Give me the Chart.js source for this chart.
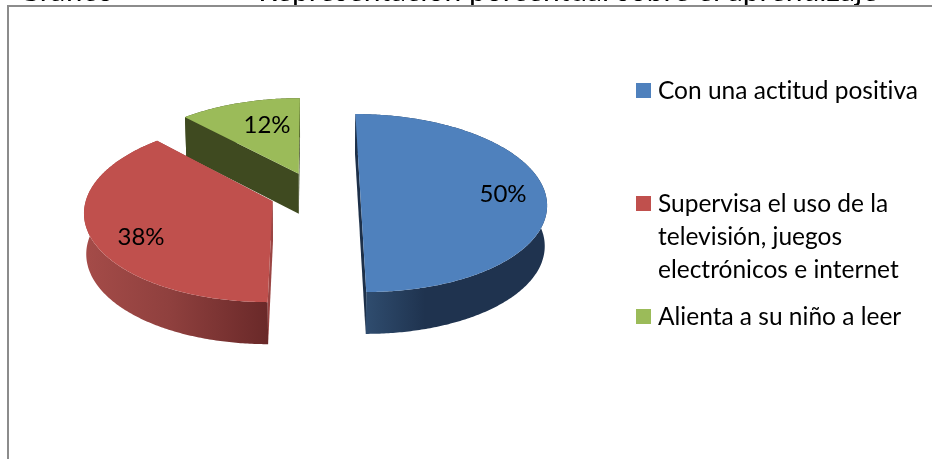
<!DOCTYPE html>
<html lang="es">
<head>
<meta charset="utf-8">
<title>Gráfico</title>
<script src="https://cdn.jsdelivr.net/npm/chart.js@4"></script>
<style>
  html, body { margin: 0; padding: 0; background: #fff; overflow: hidden; }
  #wrap { position: relative; width: 932px; height: 459px; overflow: hidden; }
  #frame { position: absolute; left: 7px; top: 5px; right: -4px; bottom: -4px;
           border: 2px solid #8c8c8c; box-sizing: border-box; pointer-events: none; }
  canvas { position: absolute; left: 0; top: 0; }
</style>
</head>
<body>
<div id="wrap">
  <canvas id="c" width="932" height="459"></canvas>
  <div id="frame"></div>
</div>
<script>
const categories = ['Con una actitud positiva',
                    'Supervisa el uso de la televisión, juegos electrónicos e internet',
                    'Alienta a su niño a leer'];
const legendLines = [['Con una actitud positiva'],
                     ['Supervisa el uso de la', 'televisión, juegos', 'electrónicos e internet'],
                     ['Alienta a su niño a leer']];
const values = [50, 38, 12];
const percentLabels = ['50%', '38%', '12%'];
const colors = ['#4f81bd', '#c0504d', '#9bbb59'];
const explode = [50, 50, 50];
const clippedHeading = ['Gráfico', 'Representación porcentual sobre el aprendizaje'];

const FONT = 'Lato, Carlito, sans-serif';

// Perspective of the tilted pie plane (radii -> pixels)
const cam = { vx: 311.5, vy: -606, d: 9.09, D: 7265, E: 1682, uc: 0.019, k: 0.01 };
function project(u, v) {
  const w = cam.d - v;
  return { x: cam.vx + cam.E * u / w, y: cam.vy + cam.D / w };
}
function lower(p) {
  return { x: cam.vx + (p.x - cam.vx) * (1 - cam.k), y: p.y + 40.5 + (p.y - 200) * 0.015 };
}
function wallFill(ctx, i) {
  const stops = [
    [[367, '#2f4c6e'], [425, '#1f334f'], [548, '#1f334f']],
    [[88, '#a44b48'], [170, '#8f403e'], [267, '#6a2929']],
    [[187, '#3f4a20'], [300, '#3f4a20']]
  ][i];
  const a = stops[0][0], b = stops[stops.length - 1][0];
  const g = ctx.createLinearGradient(a, 0, b, 0);
  stops.forEach(s => g.addColorStop((s[0] - a) / (b - a), s[1]));
  return g;
}
const faceColors = ['#1d3049', '#9a4543', '#3f4a20'];

function polygon(ctx, pts, fill) {
  ctx.beginPath();
  pts.forEach((p, i) => i ? ctx.lineTo(p.x, p.y) : ctx.moveTo(p.x, p.y));
  ctx.closePath();
  ctx.fillStyle = fill;
  ctx.fill();
}

const pie3d = {
  id: 'pie3d',
  beforeDatasetDraw(chart, args) {
    const ctx = chart.ctx;
    const arcs = args.meta.data;
    const order = arcs.map((a, i) => i).sort((p, q) => {
      const m = i => Math.sin((arcs[i].startAngle + arcs[i].endAngle) / 2) * arcs[i].options.offset;
      return m(p) - m(q);
    });
    ctx.save();
    order.forEach(i => {
      const el = arcs[i];
      const R = el.outerRadius;
      const mid = (el.startAngle + el.endAngle) / 2;
      const e = el.options.offset / R;
      const cu = cam.uc + Math.cos(mid) * e;
      const cv = Math.sin(mid) * e;
      const steps = Math.max(2, Math.ceil((el.endAngle - el.startAngle) * 90));
      const rim = [];
      for (let s = 0; s <= steps; s++) {
        const a = el.startAngle + (el.endAngle - el.startAngle) * s / steps;
        rim.push(project(cu + Math.cos(a), cv + Math.sin(a)));
      }
      const apex = project(cu, cv);
      const rimLow = rim.map(lower);
      const apexLow = lower(apex);
      polygon(ctx, rim.concat(rimLow.slice().reverse()), wallFill(ctx, i));
      polygon(ctx, [apex, rim[0], rimLow[0], apexLow], faceColors[i]);
      polygon(ctx, [apex, rim[steps], rimLow[steps], apexLow], faceColors[i]);
      polygon(ctx, [apex].concat(rim), el.options.backgroundColor);
    });
    ctx.restore();
    return false;
  },
  afterDatasetsDraw(chart) {
    const ctx = chart.ctx;
    ctx.save();
    ctx.textRendering = 'optimizeSpeed';
    ctx.fillStyle = '#000';
    ctx.textBaseline = 'alphabetic';
    // heading cut off by the crop: only its lowest pixels are visible
    ctx.textAlign = 'left';
    ctx.font = '30px ' + FONT;
    ctx.fillText(clippedHeading[0], 18, 1);
    ctx.fillText(clippedHeading[1], 292 - ctx.measureText('Re').width, 1);
    // percentages
    ctx.font = '24px ' + FONT;
    ctx.textAlign = 'center';
    const spots = [[503, 202], [141, 245], [267, 133]];
    percentLabels.forEach((t, i) => ctx.fillText(t, spots[i][0], spots[i][1]));
    // legend
    ctx.textAlign = 'left';
    ctx.font = '24.5px ' + FONT;
    const boxTop = [83, 196, 309];
    const lineStep = 33;
    legendLines.forEach((lines, i) => {
      ctx.fillStyle = colors[i];
      ctx.fillRect(636, boxTop[i], 15, 15);
      ctx.fillStyle = '#000';
      lines.forEach((t, j) => ctx.fillText(t, 658, boxTop[i] + 16 + j * lineStep));
    });
    ctx.restore();
  }
};

new Chart(document.getElementById('c'), {
  type: 'pie',
  data: {
    labels: categories,
    datasets: [{ data: values, backgroundColor: colors, offset: explode, borderWidth: 0 }]
  },
  options: {
    responsive: false,
    animation: false,
    devicePixelRatio: 1,
    plugins: { legend: { display: false }, tooltip: { enabled: false } }
  },
  plugins: [pie3d]
});
</script>
</body>
</html>
